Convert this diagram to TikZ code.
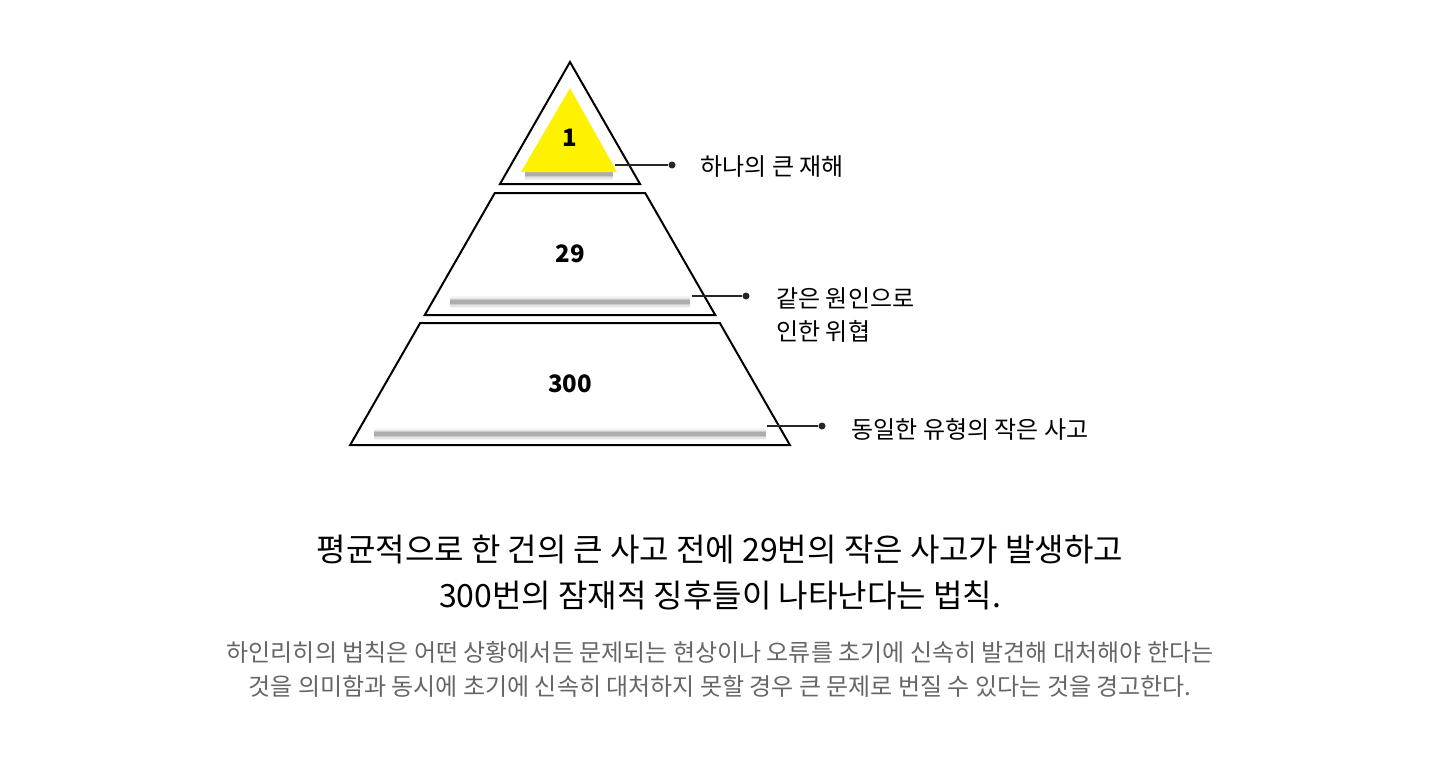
\documentclass[tikz,border=0pt]{standalone}
\usepackage{fontspec}
\setmainfont{Noto Sans CJK KR}
\usepackage{xcolor}
\usetikzlibrary{math}
\definecolor{shadowgray}{gray}{0.5}
\definecolor{notegray}{HTML}{666666}

\begin{document}
\begin{tikzpicture}[x=0.5pt,y=-0.5pt,
  num/.style={font=\fontsize{12}{14}\selectfont\bfseries, inner sep=0},
  tag/.style={font=\fontsize{12}{16.5}\selectfont, anchor=west, align=left, inner sep=0},
  dot/.style={circle, fill=black!85, inner sep=0, minimum size=3.5pt},
  leader/.style={line width=0.75, black!85}]
\tikzmath{
\ax=570; \ay=62; \k=0.574;
}
\useasboundingbox (0,0) rectangle (1440,760);

% soft shadows
\foreach \xa/\xb/\yy in {525/613/174, 450/690/302, 374/766/434}{
\foreach \w/\o in {6/0.08,4.5/0.15,3/0.25,1.8/0.4}{
\draw[shadowgray, line width=\w, opacity=\o] (\xa,\yy) -- (\xb,\yy);
}
}

% yellow top
\fill[yellow] (570,88) -- (617,172) -- (521,172) -- cycle;

% pyramid
\draw[line width=1] (\ax,\ay) -- ({\ax+\k*(184-\ay)},184) -- ({\ax-\k*(184-\ay)},184) -- cycle;
\foreach \t/\b in {193/315,323/445}{
\draw[line width=1] ({\ax-\k*(\t-\ay)},\t) -- ({\ax+\k*(\t-\ay)},\t) -- ({\ax+\k*(\b-\ay)},\b) -- ({\ax-\k*(\b-\ay)},\b) -- cycle;
}

\node[num] (n1) at (570,138) {1};
\node[num] (n29) at (570,254) {29};
\node[num] (n300) at (570,384) {300};

% leaders
\coordinate (c1) at (615,165);
\coordinate (c2) at (692,296);
\coordinate (c3) at (767,426);
\node[dot] (d1) at (672,165) {};
\node[dot] (d2) at (746,296) {};
\node[dot] (d3) at (822,426) {};
\draw[leader] (c1) -- (d1);
\draw[leader] (c2) -- (d2);
\draw[leader] (c3) -- (d3);

\node[tag] (t1) at (700,167) {하나의 큰 재해};
\node[tag] (t2) at (776,315) {같은 원인으로\\인한 위협};
\node[tag] (t3) at (851,429) {동일한 유형의 작은 사고};

% captions
\node[font=\fontsize{16}{23}\selectfont, align=center] (head) at (720,573)
  {평균적으로 한 건의 큰 사고 전에 29번의 작은 사고가 발생하고\\300번의 잠재적 징후들이 나타난다는 법칙.};
\node[font=\fontsize{12}{17}\selectfont, align=center, text=notegray] (note) at (720,669)
  {하인리히의 법칙은 어떤 상황에서든 문제되는 현상이나 오류를 초기에 신속히 발견해 대처해야 한다는\\것을 의미함과 동시에 초기에 신속히 대처하지 못할 경우 큰 문제로 번질 수 있다는 것을 경고한다.};

\end{tikzpicture}
\end{document}
